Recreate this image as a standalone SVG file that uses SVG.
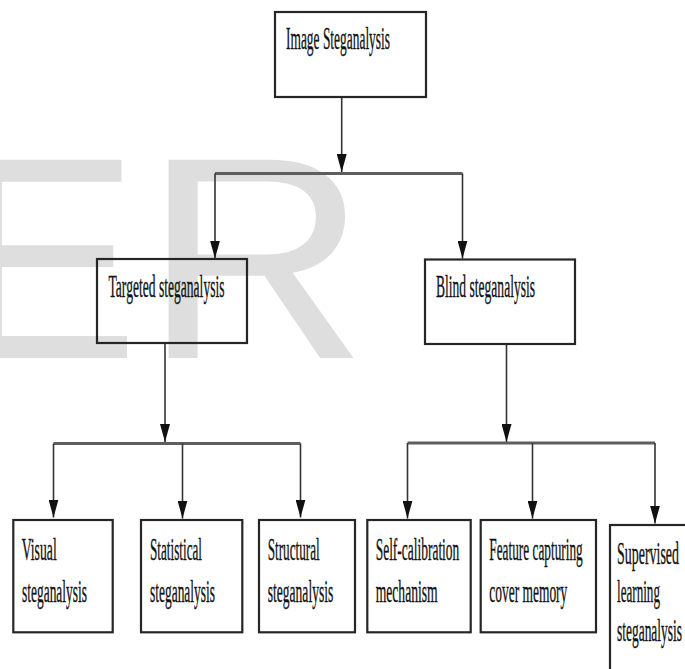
<svg xmlns="http://www.w3.org/2000/svg" width="685" height="669" viewBox="0 0 685 669">
<style>
.box{fill:none;stroke:#262626;stroke-width:2.2}
.t{font-family:"Liberation Serif","Times New Roman",serif;font-size:31px;fill:#111;stroke:#111;stroke-width:0.35}
.v{fill:none;stroke:#333;stroke-width:1.6}
.bar{fill:none;stroke:#5e5e5e;stroke-width:3.2}
.wm{font-family:"Liberation Sans",Arial,sans-serif;font-size:288px;fill:#dedede}
</style>
<defs>
<marker id="ah" viewBox="0 0 18 10" refX="18" refY="5" markerWidth="18" markerHeight="10" markerUnits="userSpaceOnUse" orient="auto">
<path d="M0,0 L18,5 L0,10 z" fill="#111"/>
</marker>
</defs>
<rect width="685" height="669" fill="#fff"/>
<g id="watermark">
<text class="wm" x="-47" y="358" textLength="186" lengthAdjust="spacingAndGlyphs">E</text>
<text class="wm" x="143" y="358" textLength="225" lengthAdjust="spacingAndGlyphs">R</text>
</g>
<g id="connectors">
<path class="v" d="M341.7,97 V172" marker-end="url(#ah)"/>
<path class="bar" d="M215,173.5 H462.5"/>
<path class="v" d="M215,173.5 V258.5" marker-end="url(#ah)"/>
<path class="v" d="M462.5,173.5 V258.5" marker-end="url(#ah)"/>
<path class="v" d="M165,343 V442" marker-end="url(#ah)"/>
<path class="bar" d="M53.5,443.5 H300.5"/>
<path class="v" d="M53.5,443.5 V517.5" marker-end="url(#ah)"/>
<path class="v" d="M182.5,443.5 V518.5" marker-end="url(#ah)"/>
<path class="v" d="M300.5,443.5 V517.5" marker-end="url(#ah)"/>
<path class="v" d="M506.5,344 V442" marker-end="url(#ah)"/>
<path class="bar" d="M407.5,443 H655"/>
<path class="v" d="M407.5,443 V518.5" marker-end="url(#ah)"/>
<path class="v" d="M532.5,443 V518.5" marker-end="url(#ah)"/>
<path class="v" d="M655,443 V523.5" marker-end="url(#ah)"/>
</g>
<g id="image-steganalysis">
<rect class="box" x="275" y="12" width="151" height="85"/>
<text class="t" x="286" y="49" textLength="104" lengthAdjust="spacingAndGlyphs">Image Steganalysis</text>
</g>
<g id="targeted">
<rect class="box" x="97" y="259" width="150" height="84"/>
<text class="t" x="108.5" y="296.5" textLength="116" lengthAdjust="spacingAndGlyphs">Targeted steganalysis</text>
</g>
<g id="blind">
<rect class="box" x="425" y="259.5" width="150" height="84.5"/>
<text class="t" x="436" y="296.5" textLength="99" lengthAdjust="spacingAndGlyphs">Blind steganalysis</text>
</g>
<g id="visual">
<rect class="box" x="13.3" y="520" width="99.4" height="112.3"/>
<text class="t" x="21.7" y="560" textLength="35" lengthAdjust="spacingAndGlyphs">Visual</text>
<text class="t" x="22" y="601.5" textLength="65" lengthAdjust="spacingAndGlyphs">steganalysis</text>
</g>
<g id="statistical">
<rect class="box" x="141" y="520" width="101.3" height="112.3"/>
<text class="t" x="150" y="560" textLength="52" lengthAdjust="spacingAndGlyphs">Statistical</text>
<text class="t" x="150" y="601.5" textLength="65" lengthAdjust="spacingAndGlyphs">steganalysis</text>
</g>
<g id="structural">
<rect class="box" x="259" y="520" width="96" height="112.3"/>
<text class="t" x="267.7" y="560" textLength="52" lengthAdjust="spacingAndGlyphs">Structural</text>
<text class="t" x="267.7" y="601.5" textLength="65.6" lengthAdjust="spacingAndGlyphs">steganalysis</text>
</g>
<g id="self-calibration">
<rect class="box" x="367.3" y="520" width="103.4" height="112.3"/>
<text class="t" x="375.7" y="560" textLength="83.6" lengthAdjust="spacingAndGlyphs">Self-calibration</text>
<text class="t" x="375.7" y="601.5" textLength="62" lengthAdjust="spacingAndGlyphs">mechanism</text>
</g>
<g id="feature-capturing">
<rect class="box" x="480.7" y="520" width="115.3" height="112.3"/>
<text class="t" x="489.3" y="560" textLength="93.4" lengthAdjust="spacingAndGlyphs">Feature capturing</text>
<text class="t" x="489.3" y="601.5" textLength="78" lengthAdjust="spacingAndGlyphs">cover memory</text>
</g>
<g id="supervised">
<rect class="box" x="610" y="525" width="110" height="200"/>
<text class="t" x="617" y="563.5" textLength="62" lengthAdjust="spacingAndGlyphs">Supervised</text>
<text class="t" x="617" y="602" textLength="43" lengthAdjust="spacingAndGlyphs">learning</text>
<text class="t" x="617" y="641" textLength="65" lengthAdjust="spacingAndGlyphs">steganalysis</text>
</g>
</svg>
